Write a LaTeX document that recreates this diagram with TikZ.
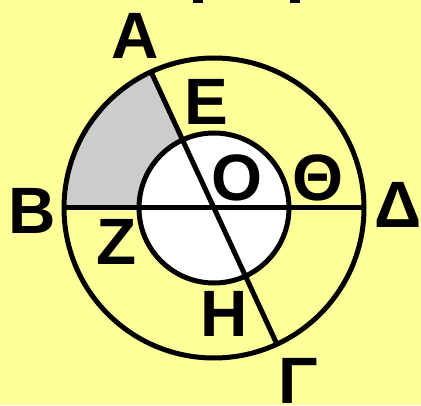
\documentclass[tikz,border=0pt]{standalone}
\usepackage{fontspec}
\setmainfont{Liberation Sans}
\usetikzlibrary{calc}
\definecolor{bgyellow}{RGB}{255,255,153}
\definecolor{sectorgray}{RGB}{204,204,204}
\begin{document}
\begin{tikzpicture}[x=1pt,y=1pt,
  lbl/.style={inner sep=0pt,font=\fontsize{65.6}{66}\selectfont\bfseries},
  geo/.style={line width=5pt}]
\fill[bgyellow] (0,0) rectangle (421,405);
\useasboundingbox (0,0) rectangle (421,405);
\coordinate (C) at (214,197);
\coordinate (Ap) at ($(C)+(114.8:150)$);
\coordinate (Gp) at ($(C)+(-65.2:150)$);
\coordinate (Bp) at ($(C)+(180:150)$);
\coordinate (Dp) at ($(C)+(0:150)$);
% shaded annular sector
\fill[sectorgray] ($(C)+(114.8:150)$) arc[start angle=114.8,end angle=180,radius=150]
  -- ($(C)+(180:75)$) arc[start angle=180,end angle=114.8,radius=75] -- cycle;
% inner disc
\fill[white] (C) circle[radius=75];
% circles and lines
\draw[geo] (C) circle[radius=150];
\draw[geo] (C) circle[radius=75];
\draw[geo] (Bp) -- (Dp);
\draw[geo] (Ap) -- (Gp);
% cut-off marks at top
\fill (193,402) rectangle (203,405);
\fill (290,402) rectangle (300,405);
% labels
\node[lbl] (lA) at (135,369.5) {Α};
\node[lbl] (lE) at (206,303.5) {Ε};
\node[lbl] (lO) at (237.5,227.5) {Ο};
\node[lbl] (lTh) at (318.5,227.5) {Θ};
\node[lbl] (lD) at (398,200) {Δ};
\node[lbl] (lB) at (32,194) {Β};
\node[lbl] (lZ) at (117,163.5) {Ζ};
\node[lbl] (lH) at (224,91) {Η};
\node[lbl] (lG) at (298.5,24.5) {Γ};
\end{tikzpicture}
\end{document}
